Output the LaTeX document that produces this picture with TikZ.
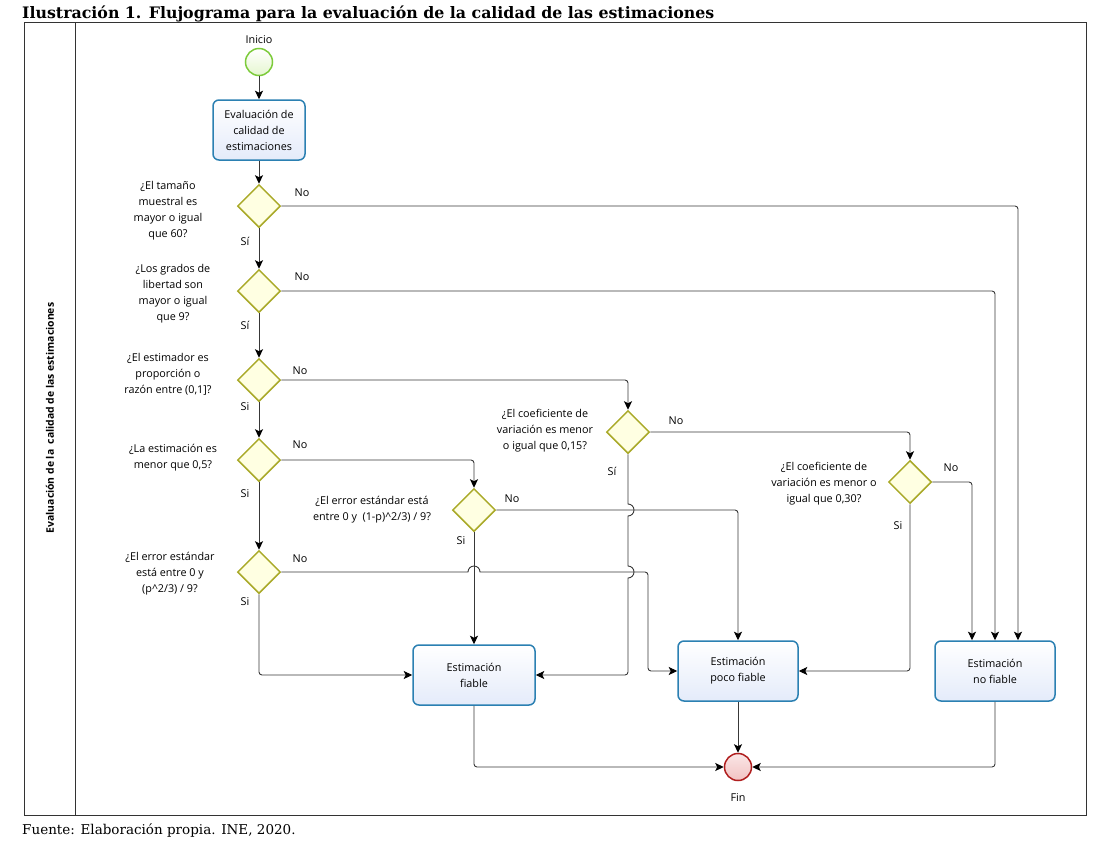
\documentclass[tikz,border=0pt]{standalone}
\usepackage{fontspec}
\setmainfont{DejaVu Serif}
\newfontfamily\diagfont{Open Sans}
\usetikzlibrary{shapes.geometric,arrows.meta}

\definecolor{lineC}{HTML}{383838}
\definecolor{gateB}{HTML}{A9A928}
\definecolor{gateF}{HTML}{FFFFE2}
\definecolor{startB}{HTML}{7CCB3A}
\definecolor{startF}{HTML}{E4F6CF}
\definecolor{taskB}{HTML}{2B80B2}
\definecolor{taskF}{HTML}{E4EBFA}
\definecolor{endB}{HTML}{B01E1E}
\definecolor{endF}{HTML}{F2C2C2}

\begin{document}
\begin{tikzpicture}[x=1pt,y=-1pt,
  every node/.style={font=\diagfont\fontsize{10.8}{16}\selectfont,align=center,inner sep=1pt},
  task/.style={draw=taskB,line width=1.5pt,rounded corners=6pt,top color=white,bottom color=taskF,minimum width=120pt,minimum height=60pt},
  gate/.style={diamond,draw=gateB,line width=1.5pt,fill=gateF,minimum size=43pt,inner sep=0pt},
  event/.style={circle,line width=1.5pt,minimum size=27pt,inner sep=0pt},
  flow/.style={draw=lineC,line width=0.9pt,-{Stealth[length=8.5pt,width=8pt,inset=2pt,color=black]}}]
\useasboundingbox (0,0) rectangle (1109,844);

% frame and lane
\node[anchor=base west,inner sep=0pt,font=\rmfamily\bfseries\fontsize{15.8}{18}\selectfont] (title) at (22,18) {Ilustración 1. Flujograma para la evaluación de la calidad de las estimaciones};
\draw[line width=0.7pt,black!80] (24,22) rectangle (1086,815);
\draw[line width=0.7pt,black!80] (75,22) -- (75,815);
\node[rotate=90,font=\diagfont\bfseries\fontsize{10.4}{12}\selectfont] (lane) at (50,418) {Evaluación de la\ \ calidad de las estimaciones};
\node[anchor=base west,inner sep=0pt,font=\rmfamily\fontsize{13.5}{15}\selectfont] (source) at (22,834) {Fuente: Elaboración propia. INE, 2020.};

% events and tasks
\node[event,draw=startB,top color=white,bottom color=startF] (start) at (259,62) {};
\node (inicio) at (259,40) {Inicio};
\node[task,minimum width=92pt] (eval) at (259,130) {Evaluación de\\calidad de\\estimaciones};
\node[task,minimum width=122pt] (fiable) at (474,675) {Estimación\\fiable};
\node[task] (poco) at (738,671) {Estimación\\poco fiable};
\node[task] (nofiable) at (995,671) {Estimación\\no fiable};
\node[event,draw=endB,top color=endF!40,bottom color=endF] (fin) at (738,767) {};
\node (finlbl) at (738,798) {Fin};

% gateways
\node[gate] (d1) at (259,206) {};
\node[gate] (d2) at (259,291) {};
\node[gate] (d3) at (259,380) {};
\node[gate] (d4) at (259,460) {};
\node[gate] (d5) at (259,572) {};
\node[gate] (e1) at (474,510) {};
\node[gate] (cv15) at (628,432) {};
\node[gate] (cv30) at (910,482) {};

% questions
\node (q1) at (168,211) {¿El tamaño\\muestral es\\mayor o igual\\que 60?};
\node (q2) at (173,294) {¿Los grados de\\libertad son\\mayor o igual\\que 9?};
\node (q3) at (168,374) {¿El estimador es\\proporción o\\razón entre (0,1]?};
\node (q4) at (173,458) {¿La estimación es\\menor que 0,5?};
\node (q5) at (170,574) {¿El error estándar\\está entre 0 y\\(p\^{}2/3) / 9?};
\node (q6) at (372,510) {¿El error estándar está\\entre 0 y\ \ (1-p)\^{}2/3) / 9?};
\node (q7) at (545,431) {¿El coeficiente de\\variación es menor\\o igual que 0,15?};
\node (q8) at (824,484) {¿El coeficiente de\\variación es menor o\\igual que 0,30?};

% answers
\node (n1) at (302,193) {No};  \node (s1) at (245,241) {Sí};
\node (n2) at (302,277) {No};  \node (s2) at (245,325) {Sí};
\node (n3) at (300,371) {No};  \node (s3) at (245,407) {Si};
\node (n4) at (300,445) {No};  \node (s4) at (245,494) {Si};
\node (n5) at (300,559) {No};  \node (s5) at (245,602) {Si};
\node (n6) at (512,499) {No};  \node (s6) at (461,541) {Si};
\node (n7) at (676,421) {No};  \node (s7) at (612,471) {Sí};
\node (n8) at (951,468) {No};  \node (s8) at (898,526) {Si};

% main column
\draw[flow] (start) -- (eval);
\draw[flow] (eval) -- (d1);
\draw[flow] (d1) -- (d2);
\draw[flow] (d2) -- (d3);
\draw[flow] (d3) -- (d4);
\draw[flow] (d4) -- (d5);
\draw[flow,rounded corners=3pt] (d5.south) |- (fiable.west);

% no branches
\draw[flow,rounded corners=3pt] (d1.east) -| ([xshift=23pt]nofiable.north);
\draw[flow,rounded corners=3pt] (d2.east) -| (nofiable.north);
\draw[flow,rounded corners=3pt] (d3.east) -| (cv15.north);
\draw[flow,rounded corners=3pt] (d4.east) -| (e1.north);
\draw[flow,rounded corners=3pt] (cv15.east) -| (cv30.north);
\draw[flow,rounded corners=3pt] (cv30.east) -| ([xshift=-23pt]nofiable.north);
\draw[flow,rounded corners=3pt] (e1.east) -| (poco.north);
\draw[flow] (d5.east) -- (468,572) arc(180:360:6) [rounded corners=3pt] -- (648,572) |- (poco.west);

% yes branches
\draw[flow] (e1.south) -- (fiable.north);
\draw[flow] (cv15.south) -- (628,504) arc(-90:90:6) -- (628,566) arc(-90:90:6) [rounded corners=3pt] |- (fiable.east);
\draw[flow,rounded corners=3pt] (cv30.south) |- (poco.east);

% to the end
\draw[flow,rounded corners=3pt] (fiable.south) |- (fin.west);
\draw[flow] (poco.south) -- (fin.north);
\draw[flow,rounded corners=3pt] (nofiable.south) |- (fin.east);
\end{tikzpicture}
\end{document}
